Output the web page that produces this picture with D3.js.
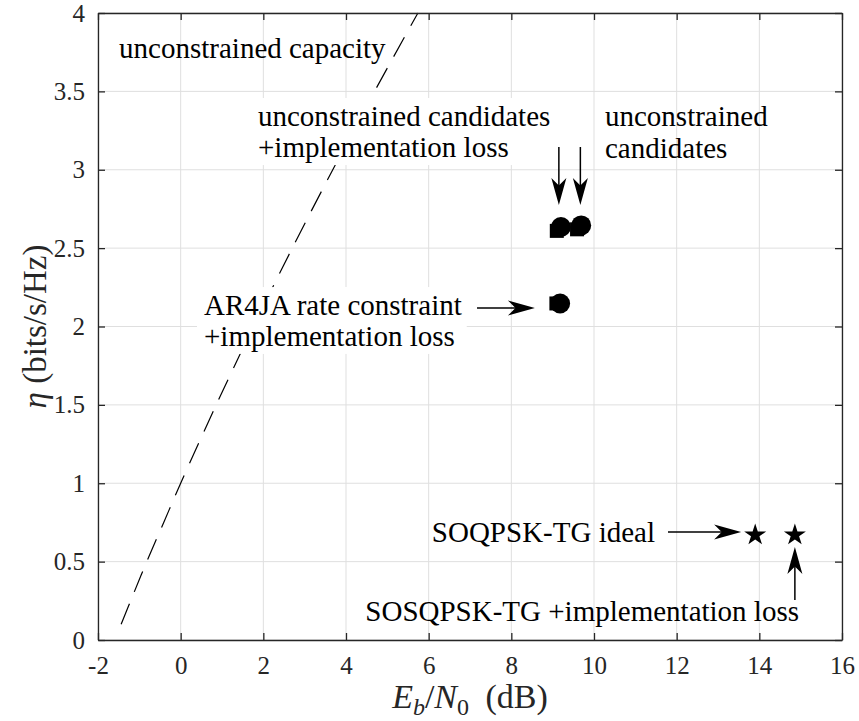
<!DOCTYPE html>
<html>
<head>
<meta charset="utf-8">
<script src="https://cdn.jsdelivr.net/npm/d3@7"></script>
<style>
  body { margin: 0; background: #fff; }
  text { font-family: "Liberation Serif", "Times New Roman", serif; }
</style>
</head>
<body>
<div id="chart"></div>
<script>
// ticks
const xTicks = [-2, 0, 2, 4, 6, 8, 10, 12, 14, 16];
const xTickLabels = ["-2", "0", "2", "4", "6", "8", "10", "12", "14", "16"];
const yTicks = [0, 0.5, 1, 1.5, 2, 2.5, 3, 3.5, 4];
const yTickLabels = ["0", "0.5", "1", "1.5", "2", "2.5", "3", "3.5", "4"];

// unconstrained capacity curve
const capEta = [0.1, 0.25, 0.5, 0.75, 1, 1.5, 2, 2.5, 3, 3.5, 4];
const capEbN0 = [-1.44, -1.21, -0.82, -0.41, 0, 0.86, 1.76, 2.70, 3.68, 4.69, 5.74];

// candidate points (circle + square markers)
const circEbN0 = [9.20, 9.69, 9.18];
const circEta = [2.635, 2.645, 2.147];
const sqEbN0 = [9.10, 9.59, 9.09];
const sqEta = [2.61, 2.62, 2.147];

// SOQPSK-TG points
const starEbN0 = [13.9, 14.86];
const starEta = [0.67, 0.67];

const W = 859, H = 721;
const margin = {top: 13, right: 17, bottom: 81, left: 98};
const width = W - margin.left - margin.right;
const height = H - margin.top - margin.bottom;
const axisColor = "#262626";
const gridColor = "#dfdfdf";

const svg = d3.select("#chart").append("svg")
    .attr("width", W)
    .attr("height", H);

const g = svg.append("g")
    .attr("transform", `translate(${margin.left},${margin.top})`);

const x = d3.scaleLinear().domain([-2, 16]).range([0, width]);
const y = d3.scaleLinear().domain([0, 4]).range([height, 0]);

// grid
g.append("g").selectAll("line").data(xTicks).join("line")
    .attr("x1", d => x(d)).attr("x2", d => x(d))
    .attr("y1", 0).attr("y2", height)
    .attr("stroke", gridColor);
g.append("g").selectAll("line").data(yTicks).join("line")
    .attr("y1", d => y(d)).attr("y2", d => y(d))
    .attr("x1", 0).attr("x2", width)
    .attr("stroke", gridColor);

// capacity curve
const capData = capEta.map((e, i) => ({eta: e, eb: capEbN0[i]}));
g.append("path")
    .datum(capData)
    .attr("fill", "none")
    .attr("stroke", "black")
    .attr("stroke-width", 1.2)
    .attr("stroke-dasharray", "22,13")
    .attr("d", d3.line().x(d => x(d.eb)).y(d => y(d.eta)).curve(d3.curveCatmullRom));

// markers
g.append("g").selectAll("rect").data(sqEbN0).join("rect")
    .attr("x", (d, i) => x(d) - 7)
    .attr("y", (d, i) => y(sqEta[i]) - 7)
    .attr("width", 14).attr("height", 14)
    .attr("fill", "black");
g.append("g").selectAll("circle").data(circEbN0).join("circle")
    .attr("cx", d => x(d))
    .attr("cy", (d, i) => y(circEta[i]))
    .attr("r", 10)
    .attr("fill", "black");
g.append("g").selectAll("path").data(starEbN0).join("path")
    .attr("transform", (d, i) => `translate(${x(d)},${y(starEta[i])})`)
    .attr("d", d3.symbol(d3.symbolStar, 150))
    .attr("fill", "black");

// axes (box with inward ticks)
function styleAxis(sel) {
    sel.select(".domain").attr("stroke", axisColor).attr("stroke-width", 1.3);
    sel.selectAll(".tick line").attr("stroke", axisColor).attr("stroke-width", 1.3);
    sel.selectAll(".tick text").attr("fill", axisColor).style("font-size", "25px");
}
g.append("g")
    .attr("transform", `translate(0,${height})`)
    .call(d3.axisBottom(x).tickValues(xTicks).tickFormat((d, i) => xTickLabels[i])
        .tickSizeInner(-7).tickSizeOuter(0).tickPadding(16))
    .call(styleAxis);
g.append("g")
    .call(d3.axisLeft(y).tickValues(yTicks).tickFormat((d, i) => yTickLabels[i])
        .tickSizeInner(-7).tickSizeOuter(0).tickPadding(13))
    .call(styleAxis);
g.append("g")
    .call(d3.axisTop(x).tickValues(xTicks).tickFormat("").tickSizeInner(-7).tickSizeOuter(0))
    .call(styleAxis);
g.append("g")
    .attr("transform", `translate(${width},0)`)
    .call(d3.axisRight(y).tickValues(yTicks).tickFormat("").tickSizeInner(-7).tickSizeOuter(0))
    .call(styleAxis);

// text annotations
const notes = [
    {lines: ["unconstrained capacity"], x: -1.49, y: [3.713], anchor: "start", box: false},
    {lines: ["unconstrained candidates", "+implementation loss"], x: 1.871, y: [3.279, 3.081], anchor: "start", box: true},
    {lines: ["unconstrained", "candidates"], x: 10.266, y: [3.279, 3.075], anchor: "start", box: false},
    {lines: ["AR4JA rate constraint", "+implementation loss"], x: 0.565, y: [2.073, 1.876], anchor: "start", box: true},
    {lines: ["SOQPSK-TG ideal"], x: 11.476, y: [0.625], anchor: "end", box: false},
    {lines: ["SOSQPSK-TG +implementation loss"], x: 14.96, y: [0.121], anchor: "end", box: false}
];
notes.forEach(n => {
    const ng = g.append("g");
    n.lines.forEach((t, i) => {
        ng.append("text")
            .attr("x", x(n.x))
            .attr("y", y(n.y[i]))
            .attr("text-anchor", n.anchor)
            .style("font-size", "29px")
            .attr("fill", "black")
            .text(t);
    });
    if (n.box) {
        const bb = ng.node().getBBox();
        ng.insert("rect", ":first-child")
            .attr("x", bb.x - 7).attr("y", bb.y - 2)
            .attr("width", bb.width + 12).attr("height", bb.height + 4)
            .attr("fill", "white");
    }
});

// arrows
const arrows = [
    {x1: 9.15, y1: 3.145, x2: 9.15, y2: 2.775},
    {x1: 9.67, y1: 3.145, x2: 9.67, y2: 2.775},
    {x1: 7.17, y1: 2.118, x2: 8.57, y2: 2.118},
    {x1: 11.79, y1: 0.689, x2: 13.56, y2: 0.689},
    {x1: 14.86, y1: 0.255, x2: 14.86, y2: 0.593}
];
const headL = 27, headW = 15;
arrows.forEach(a => {
    const sx = x(a.x1), sy = y(a.y1), tx = x(a.x2), ty = y(a.y2);
    const len = Math.hypot(tx - sx, ty - sy);
    const ux = (tx - sx) / len, uy = (ty - sy) / len;
    const px = -uy, py = ux;
    g.append("line")
        .attr("x1", sx).attr("y1", sy)
        .attr("x2", tx - ux * headL * 0.7).attr("y2", ty - uy * headL * 0.7)
        .attr("stroke", "black").attr("stroke-width", 1.5);
    const pts = [
        [tx, ty],
        [tx - ux * headL + px * headW / 2, ty - uy * headL + py * headW / 2],
        [tx - ux * headL * 0.72, ty - uy * headL * 0.72],
        [tx - ux * headL - px * headW / 2, ty - uy * headL - py * headW / 2]
    ];
    g.append("path")
        .attr("d", "M" + pts.map(p => p.join(",")).join("L") + "Z")
        .attr("fill", "black");
});

// axis labels
const xl = svg.append("text")
    .attr("x", margin.left + width / 2)
    .attr("y", 708)
    .attr("text-anchor", "middle")
    .attr("fill", axisColor)
    .style("font-size", "34px");
xl.append("tspan").style("font-style", "italic").text("E");
xl.append("tspan").style("font-style", "italic").style("font-size", "24px").attr("dy", 7).text("b");
xl.append("tspan").attr("dy", -7).text("/");
xl.append("tspan").style("font-style", "italic").text("N");
xl.append("tspan").style("font-size", "24px").attr("dy", 7).text("0");
xl.append("tspan").attr("dy", -7).attr("dx", 8).text(" (dB)");

const yl = svg.append("text")
    .attr("transform", `translate(46,${margin.top + height / 2}) rotate(-90)`)
    .attr("text-anchor", "middle")
    .attr("fill", axisColor)
    .style("font-size", "33px");
yl.append("tspan").style("font-style", "italic").text("η");
yl.append("tspan").text(" (bits/s/Hz)");
</script>
</body>
</html>
